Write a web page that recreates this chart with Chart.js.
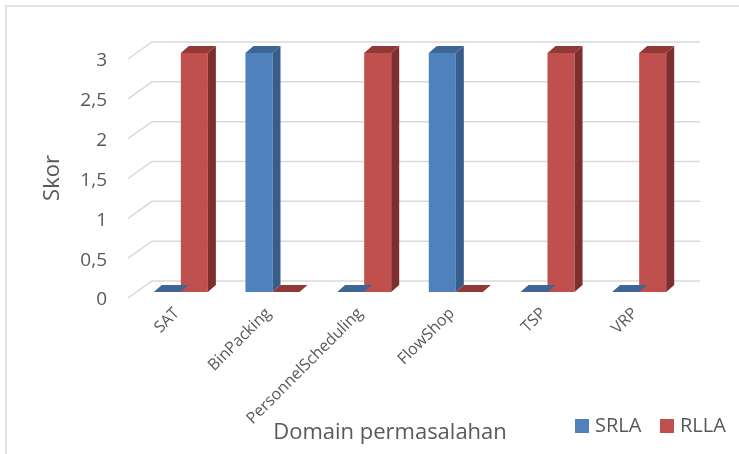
<!DOCTYPE html>
<html>
<head>
<meta charset="utf-8">
<script src="https://cdn.jsdelivr.net/npm/chart.js@4.4.0/dist/chart.umd.min.js"></script>
<style>
  html, body { margin: 0; padding: 0; background: #ffffff; }
  canvas { display: block; }
</style>
</head>
<body>
<canvas id="chart" width="739" height="454"></canvas>
<script>
// Problem domains and the score of each method
const categories = ['SAT', 'BinPacking', 'PersonnelScheduling', 'FlowShop', 'TSP', 'VRP'];
const srlaScores = [0, 3, 0, 3, 0, 0];
const rllaScores = [3, 0, 3, 0, 3, 3];
const seriesNames = ['SRLA', 'RLLA'];
const yTickLabels = ['0', '0,5', '1', '1,5', '2', '2,5', '3'];
const xTitle = 'Domain permasalahan';
const yTitle = 'Skor';

const FONT = '"Open Sans", "DejaVu Sans", sans-serif';
const TEXT = '#595959';
const GRID = '#D9D9D9';

// front / side / top shades for each series
const shades = [
  { front: '#4F81BD', side: '#385D8A', top: '#3D6596' },
  { front: '#C0504D', side: '#7E2F2D', top: '#923836' }
];

// extrusion of each column and of the back wall
const BAR_DX = 8, BAR_DY = -7;
const WALL = { backDx: 17, backDy: -11, frontDx: -7, frontDy: 6, rightExtra: 15 };

const threeD = {
  id: 'threeD',
  beforeDraw(chart) {
    const ctx = chart.ctx;
    ctx.save();
    ctx.fillStyle = '#ffffff';
    ctx.fillRect(0, 0, chart.width, chart.height);
    ctx.strokeStyle = GRID;
    ctx.lineWidth = 1.5;
    ctx.strokeRect(6, 6, chart.width + 20, chart.height + 20);
    ctx.restore();
  },
  beforeDatasetsDraw(chart) {
    const { ctx, chartArea: a } = chart;
    const ys = chart.scales.y;
    ctx.save();
    ctx.strokeStyle = GRID;
    ctx.lineWidth = 1.5;
    ys.ticks.forEach(t => {
      const y = ys.getPixelForValue(t.value);
      ctx.beginPath();
      ctx.moveTo(a.left + WALL.frontDx, y + WALL.frontDy);
      ctx.lineTo(a.left + WALL.backDx, y + WALL.backDy);
      ctx.lineTo(a.right + WALL.rightExtra, y + WALL.backDy);
      ctx.stroke();
    });
    ctx.restore();
  },
  afterDatasetDraw(chart, args) {
    const ctx = chart.ctx;
    const c = shades[args.index];
    const meta = chart.getDatasetMeta(args.index);
    ctx.save();
    meta.data.forEach(el => {
      const p = el.getProps(['x', 'y', 'base', 'width'], true);
      const x0 = p.x - p.width / 2, x1 = p.x + p.width / 2;
      const top = Math.min(p.y, p.base), bottom = Math.max(p.y, p.base);
      // side face
      if (bottom - top > 0.5) {
        ctx.fillStyle = c.side;
        ctx.beginPath();
        ctx.moveTo(x1, top);
        ctx.lineTo(x1 + BAR_DX, top + BAR_DY);
        ctx.lineTo(x1 + BAR_DX, bottom + BAR_DY);
        ctx.lineTo(x1, bottom);
        ctx.closePath();
        ctx.fill();
      }
      // top face
      ctx.fillStyle = c.top;
      ctx.beginPath();
      ctx.moveTo(x0, top);
      ctx.lineTo(x0 + BAR_DX, top + BAR_DY);
      ctx.lineTo(x1 + BAR_DX, top + BAR_DY);
      ctx.lineTo(x1, top);
      ctx.closePath();
      ctx.fill();
    });
    ctx.restore();
  },
  afterDraw(chart) {
    const ctx = chart.ctx;
    ctx.save();
    ctx.fillStyle = TEXT;
    ctx.textBaseline = 'middle';
    ctx.textAlign = 'center';
    // vertical axis title
    ctx.font = '22px ' + FONT;
    ctx.save();
    ctx.translate(53, 178);
    ctx.rotate(-Math.PI / 2);
    ctx.fillText(yTitle, 0, 0);
    ctx.restore();
    // horizontal axis title
    ctx.fillText(xTitle, 390, 433);
    // legend
    ctx.font = '20px ' + FONT;
    ctx.textAlign = 'left';
    const legendX = [575, 660];
    chart.data.datasets.forEach((ds, i) => {
      ctx.fillStyle = ds.backgroundColor;
      ctx.fillRect(legendX[i], 419, 14, 14);
      ctx.fillStyle = TEXT;
      ctx.fillText(ds.label, legendX[i] + 20, 426);
    });
    ctx.restore();
  }
};

new Chart(document.getElementById('chart'), {
  type: 'bar',
  data: {
    labels: categories,
    datasets: [
      { label: seriesNames[0], data: srlaScores, backgroundColor: shades[0].front, borderWidth: 0,
        categoryPercentage: 0.59, barPercentage: 1.0 },
      { label: seriesNames[1], data: rllaScores, backgroundColor: shades[1].front, borderWidth: 0,
        categoryPercentage: 0.59, barPercentage: 1.0 }
    ]
  },
  options: {
    responsive: false,
    animation: false,
    devicePixelRatio: 1,
    layout: { padding: { left: 0, top: 53, right: 54, bottom: 0 } },
    plugins: { legend: { display: false }, tooltip: { enabled: false } },
    scales: {
      x: {
        grid: { display: false },
        border: { display: false },
        ticks: {
          autoSkip: false, maxRotation: 45, minRotation: 45,
          color: TEXT, font: { family: FONT, size: 16 }, padding: 4, labelOffset: -4
        },
        afterFit(s) { s.height = 162; }
      },
      y: {
        min: 0, max: 3,
        grid: { display: false },
        border: { display: false },
        ticks: {
          stepSize: 0.5, color: TEXT, font: { family: FONT, size: 19 },
          padding: 20, labelOffset: 8,
          callback: v => yTickLabels[Math.round(v * 2)]
        },
        afterFit(s) { s.width = 135; }
      }
    }
  },
  plugins: [threeD]
});
</script>
</body>
</html>
